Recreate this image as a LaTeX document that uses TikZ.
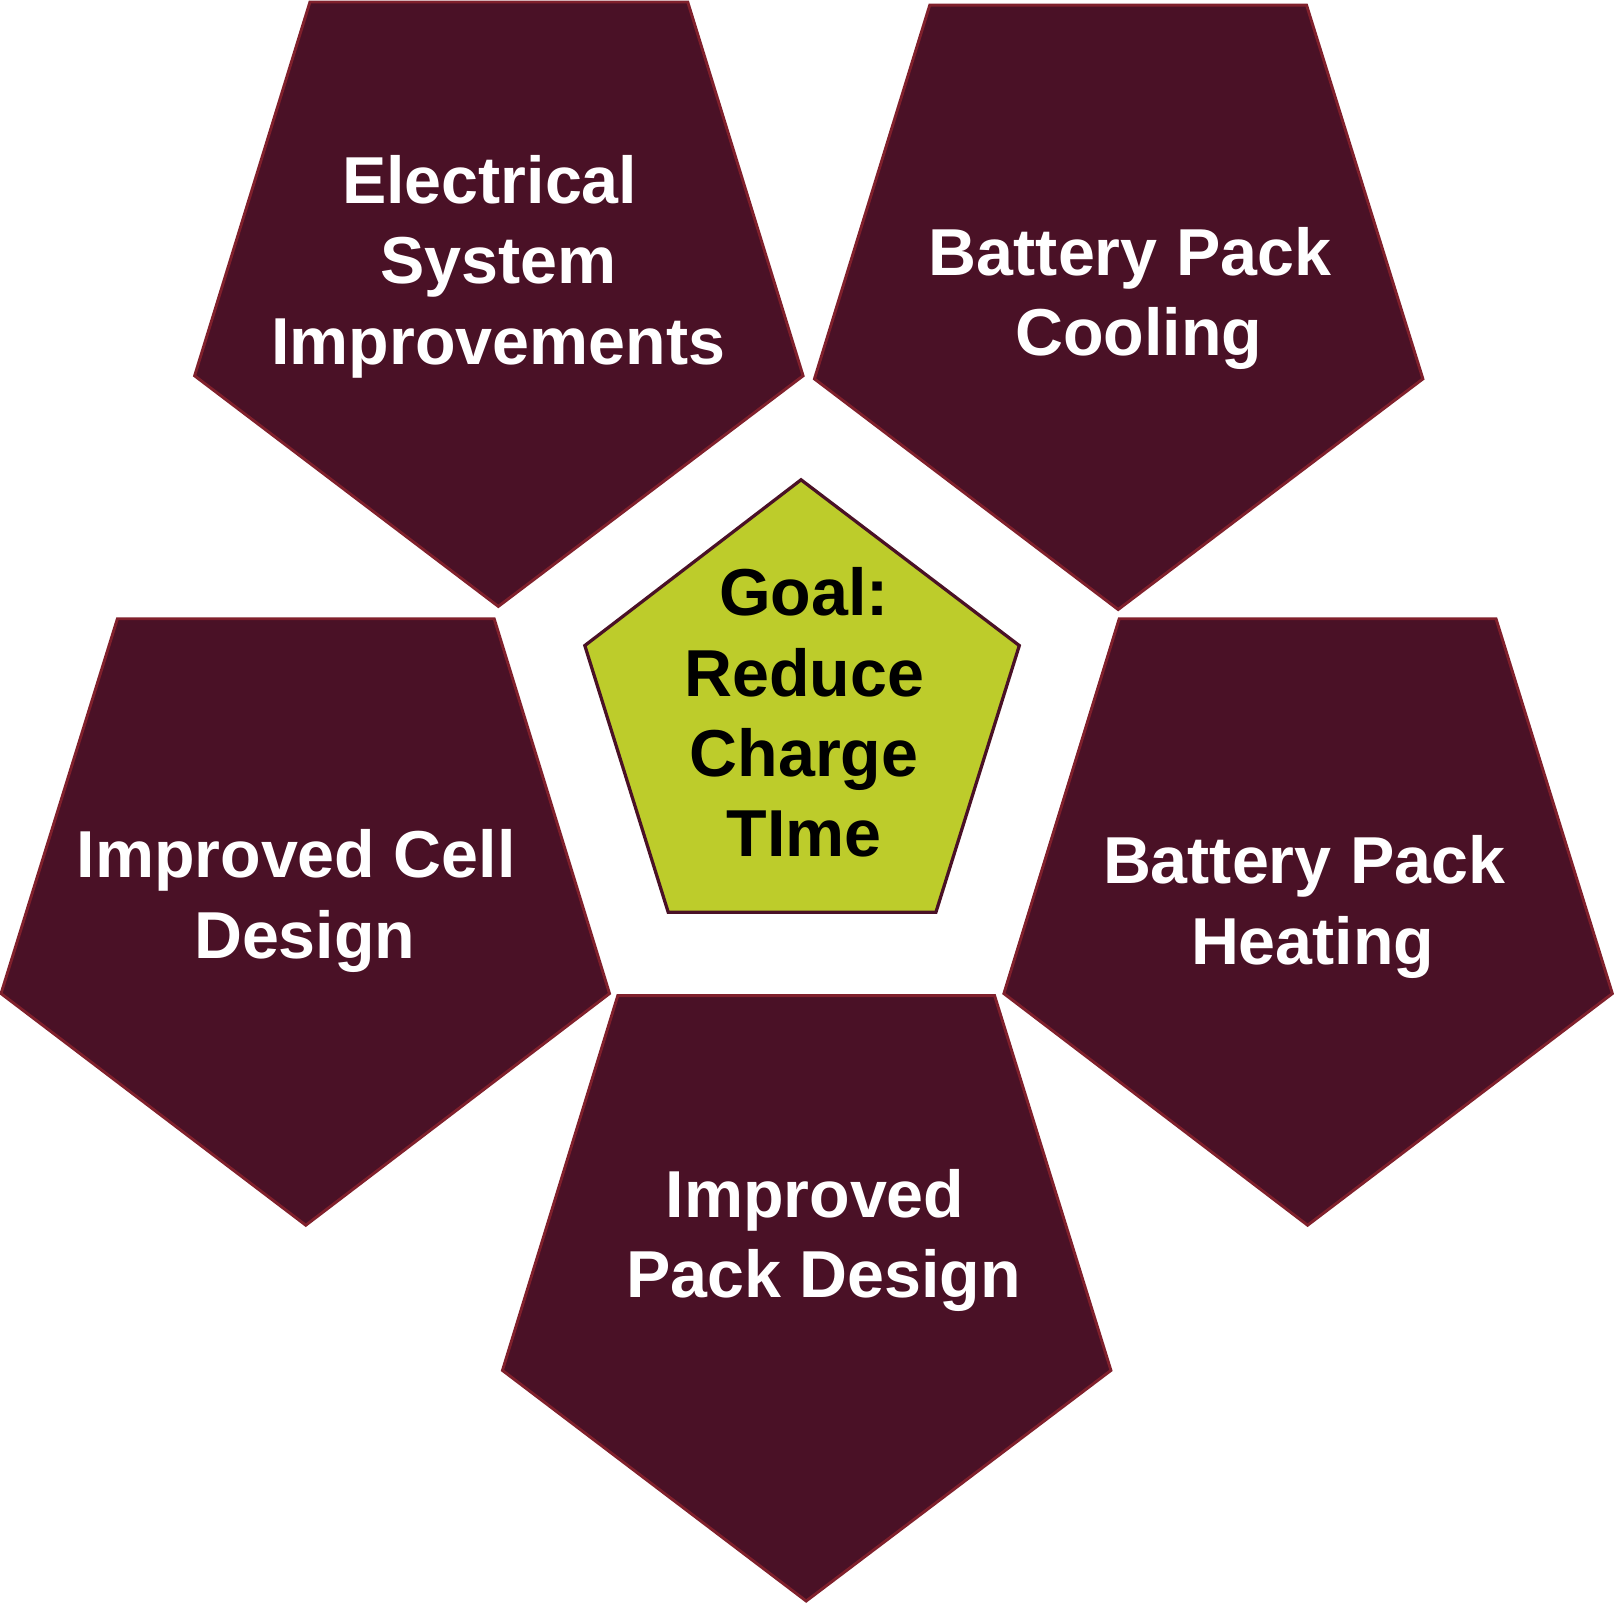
\documentclass[tikz,border=0pt]{standalone}
\usepackage{fontspec}
\setmainfont{Liberation Sans}
\definecolor{petalred}{RGB}{74, 17, 38}
\definecolor{petaledge}{RGB}{128, 32, 44}
\definecolor{goalgreen}{RGB}{189, 204, 43}
\usepackage{tikz}
\usetikzlibrary{positioning, calc}

\begin{document}
\begin{tikzpicture}[
  x=0.02cm, y=-0.02cm,
  petal/.style={draw=petaledge, fill=petalred, line width=1.6pt, line join=miter},
  goal/.style={draw=petalred, fill=goalgreen, line width=1.8pt, line join=miter},
  ptext/.style={text=white, font=\fontsize{36.7}{44.4}\selectfont\bfseries, align=center, inner sep=0pt},
  gtext/.style={ptext, text=black}
]
  \useasboundingbox (0,0) rectangle (1567.6,1557.9);
  % outer pentagons
  \draw[petal] (301,2) -- (668,2) -- (780,365) -- (484,589) -- (189,365) -- cycle;
  \draw[petal] (903,5) -- (1269,5) -- (1382,368) -- (1086,592) -- (791,368) -- cycle;
  \draw[petal] (114,601) -- (480,601) -- (592,965) -- (297,1190) -- (1,965) -- cycle;
  \draw[petal] (1087,601) -- (1453,601) -- (1566,965) -- (1270,1190) -- (975,965) -- cycle;
  \draw[petal] (600,967) -- (966,967) -- (1079,1331) -- (783,1555) -- (488,1331) -- cycle;
  % goal in the middle
  \draw[goal] (778,466) -- (990,627) -- (909,886) -- (649,886) -- (568,627) -- cycle;

  \node[ptext] (elec) at (484,259) {Electrical\hspace*{0.26em}\\System\\Improvements};
  \node[ptext] (cool) at (1106,290) {Battery Pack\hspace*{0.26em}\\Cooling};
  \node[ptext] (cell) at (296,875) {Improved Cell\hspace*{0.26em}\\Design};
  \node[ptext] (heat) at (1275,881) {Battery Pack\hspace*{0.26em}\\Heating};
  \node[ptext] (pack) at (800,1205) {Improved\hspace*{0.26em}\\Pack Design};
  \node[gtext] (goaltext) at (781,692) {Goal:\\Reduce\\Charge\\TIme};
\end{tikzpicture}
\end{document}
